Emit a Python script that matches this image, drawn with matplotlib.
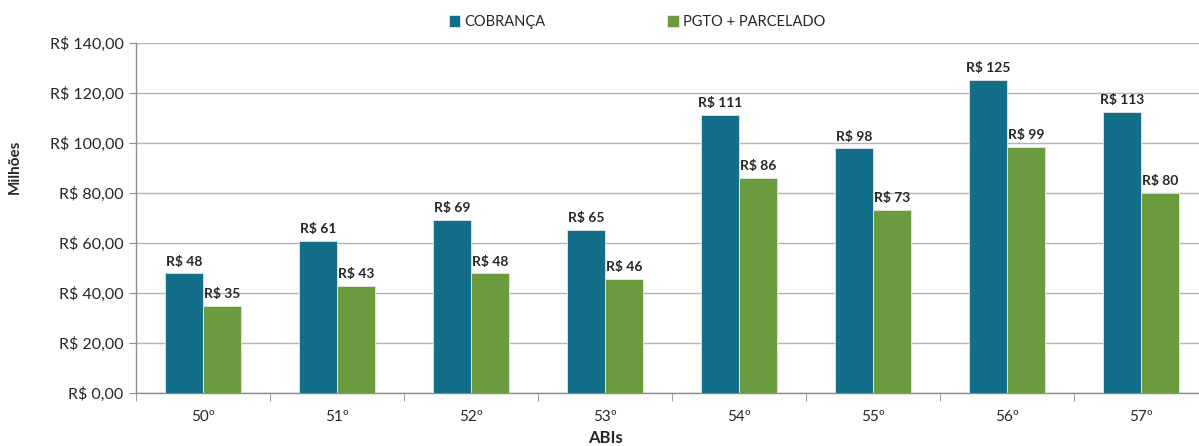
import numpy as np
import matplotlib
matplotlib.use('Agg')
import matplotlib.pyplot as plt
from matplotlib.ticker import FuncFormatter, FixedLocator

plt.rcParams['font.family'] = ['Lato', 'DejaVu Sans']

# dados (em milhoes de R$)
abis = ['50º', '51º', '52º', '53º', '54º', '55º', '56º', '57º']
cobranca = [47.9, 60.8, 69.2, 65.4, 111.2, 97.9, 125.2, 112.6]
pgto_parcelado = [34.9, 42.9, 47.9, 45.8, 86.1, 73.3, 98.6, 80.0]
series_names = ['COBRANÇA', 'PGTO + PARCELADO']
yticks = [0, 20, 40, 60, 80, 100, 120, 140]

BLUE = '#126E89'
GREEN = '#6B9A3F'
W, H = 1199, 446

fig = plt.figure(figsize=(W / 100, H / 100), dpi=100)
# area do grafico em pixels: x 136 -> 1208 (cortado na borda), y 43 -> 393
ax = fig.add_axes([136 / W, (H - 393) / H, (1208 - 136) / W, 350 / H])

x = np.arange(len(abis))
bw = 0.284
b1 = ax.bar(x - bw / 2, cobranca, bw, color=BLUE, edgecolor='#dfe9ee', linewidth=0.6,
            label=series_names[0], zorder=3)
b2 = ax.bar(x + bw / 2, pgto_parcelado, bw, color=GREEN, edgecolor='#e4ecdc', linewidth=0.6,
            label=series_names[1], zorder=3)

for bars, vals in ((b1, cobranca), (b2, pgto_parcelado)):
    for rect, v in zip(bars, vals):
        ax.annotate('R$ %d' % round(v), (rect.get_x() + rect.get_width() / 2, v),
                    xytext=(0, 4), textcoords='offset points', ha='center', va='bottom',
                    fontsize=10, fontweight='bold', color='#262626')

ax.set_xlim(-0.5, len(abis) - 0.5)
ax.set_ylim(0, 140)
ax.set_yticks(yticks)
ax.yaxis.set_major_formatter(FuncFormatter(lambda v, p: 'R$ %s' % ('%.2f' % v).replace('.', ',')))
ax.set_xticks(x)
ax.set_xticklabels(abis)
ax.xaxis.set_minor_locator(FixedLocator(np.arange(len(abis) + 1) - 0.5))
ax.tick_params(axis='x', which='major', length=0, pad=12, labelsize=11, labelcolor='#262626')
ax.tick_params(axis='x', which='minor', length=6, color='#8c8c8c', direction='out')
ax.tick_params(axis='y', length=5, color='#8c8c8c', pad=4, labelsize=11.5, labelcolor='#262626')

ax.grid(axis='y', color='#b4b4b4', linewidth=1, zorder=0)
ax.set_axisbelow(True)
for s in ('top', 'right'):
    ax.spines[s].set_visible(False)
for s in ('left', 'bottom'):
    ax.spines[s].set_color('#8c8c8c')
    ax.spines[s].set_linewidth(1)

ax.set_ylabel('Milhões', fontsize=11, fontweight='bold', color='#262626')
ax.yaxis.set_label_coords((22 - 136) / (1208 - 136), (393 - 167) / 350)
fig.text(605 / W, 1 - 438 / H, 'ABIs', ha='center', va='center',
         fontsize=12, fontweight='bold', color='#262626')

fig.legend(handles=[b1, b2], labels=series_names, loc='center', ncol=2,
           bbox_to_anchor=(637 / W, 1 - 22 / H), frameon=False, fontsize=10.5,
           handlelength=0.8, handleheight=0.8, handletextpad=0.3, columnspacing=8.3,
           labelcolor='#262626')

fig.savefig('out.png', dpi=100)
